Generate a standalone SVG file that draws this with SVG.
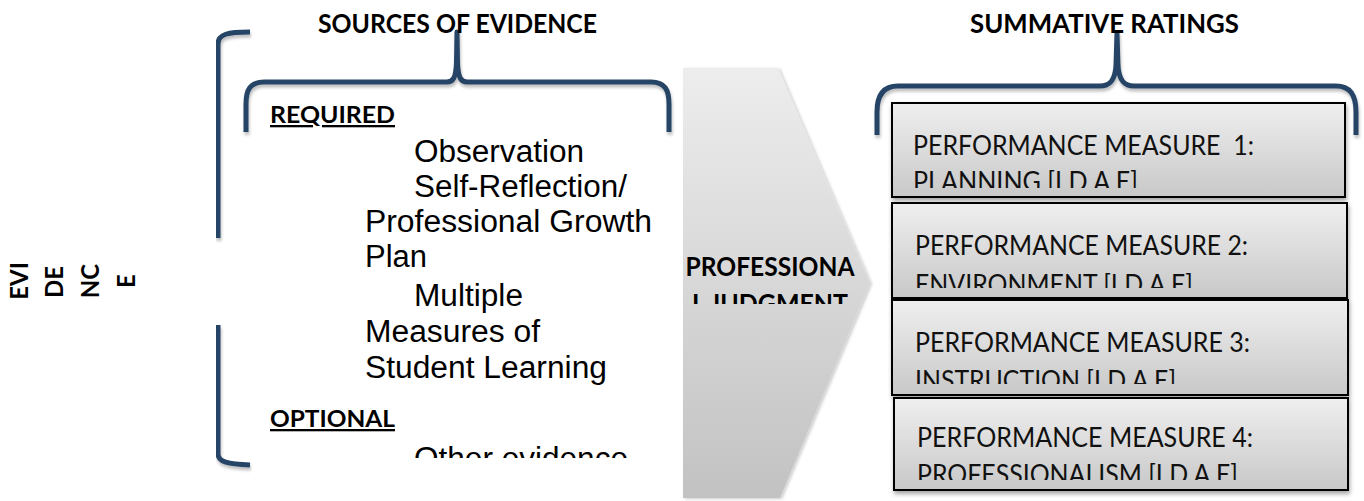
<svg xmlns="http://www.w3.org/2000/svg" width="1364" height="501" viewBox="0 0 1364 501">
<style>
.brace{fill:none;stroke:#254466;stroke-width:5;stroke-linejoin:round;filter:url(#bsh)}
.title{font-family:Lato,"Open Sans",sans-serif;font-weight:bold;font-size:26px;fill:#000}
.hdr{font-family:Lato,"Open Sans",sans-serif;font-weight:bold;font-size:23px;fill:#000;text-decoration:underline}
.item{font-family:"Liberation Sans",Arial,sans-serif;font-size:31px;fill:#000}
.box{stroke:#000;stroke-width:2;fill:url(#boxg);filter:url(#shadow)}
.btxt{font-family:Lato,"Open Sans",sans-serif;font-size:26px;fill:#111}
.ev{font-family:Lato,"Open Sans",sans-serif;font-weight:bold;font-size:24px;fill:#000}
</style>
<defs>
<linearGradient id="boxg" x1="0" y1="0" x2="0" y2="1">
<stop offset="0" stop-color="#efefef"/>
<stop offset="1" stop-color="#c8c8c8"/>
</linearGradient>
<linearGradient id="chevg" x1="0" y1="0" x2="0" y2="1">
<stop offset="0" stop-color="#ededed"/>
<stop offset="1" stop-color="#c2c2c2"/>
</linearGradient>
<filter id="shadow" x="-5%" y="-10%" width="110%" height="130%">
<feDropShadow dx="1" dy="3" stdDeviation="2" flood-color="#000" flood-opacity="0.35"/>
</filter>
<filter id="bsh" x="-5%" y="-10%" width="110%" height="130%">
<feDropShadow dx="1" dy="3" stdDeviation="1.5" flood-color="#000" flood-opacity="0.25"/>
</filter>
<filter id="csh" x="-10%" y="-5%" width="120%" height="110%">
<feDropShadow dx="2" dy="1" stdDeviation="1.5" flood-color="#000" flood-opacity="0.2"/>
</filter>
<clipPath id="c1"><rect x="892" y="104" width="453" height="84"/></clipPath>
<clipPath id="c2"><rect x="892" y="204" width="455" height="84"/></clipPath>
<clipPath id="c3"><rect x="892" y="301" width="456" height="83"/></clipPath>
<clipPath id="c4"><rect x="894" y="399" width="454" height="81"/></clipPath>
<clipPath id="cj"><rect x="683" y="240" width="190" height="64"/></clipPath>
<clipPath id="cl"><rect x="260" y="90" width="420" height="368"/></clipPath>
</defs>

<g id="connectors">
<path class="brace" d="M250,32 C228,32 218,34 218,44 L218,238"/>
<path class="brace" d="M218,325 L218,454 C218,462 228,464 250,465"/>
<path class="brace" d="M246,132 L246,104 C246,90 250,82 264,82 L447,82 C453,82 456,78 456.5,62 L457,32 L457.5,62 C458,78 461,82 467,82 L651,82 C665,82 669,90 669,104 L669,132"/>
<path class="brace" d="M877,135 L877,112 C877,95 884,86 898,86 L1100,86 C1110,86 1115,80 1116,66 L1117,33 L1118,66 C1119,80 1124,86 1134,86 L1336,86 C1350,86 1356,95 1356,112 L1356,135"/>
</g>

<g id="title-sources">
<text class="title" x="318" y="33" textLength="279" lengthAdjust="spacingAndGlyphs">SOURCES OF EVIDENCE</text>
</g>
<g id="title-summative">
<text class="title" x="970" y="33" textLength="269" lengthAdjust="spacingAndGlyphs">SUMMATIVE RATINGS</text>
</g>

<g id="evidence-label">
<g transform="translate(28,281) rotate(-90)"><text class="ev" x="0" y="0" text-anchor="middle">EVI</text></g>
<g transform="translate(63,282) rotate(-90)"><text class="ev" x="0" y="0" text-anchor="middle">DE</text></g>
<g transform="translate(99,281) rotate(-90)"><text class="ev" x="0" y="0" text-anchor="middle">NC</text></g>
<g transform="translate(135,281) rotate(-90)"><text class="ev" x="0" y="0" text-anchor="middle">E</text></g>
</g>

<g id="sources-list" clip-path="url(#cl)">
<text class="hdr" x="270" y="123" textLength="125" lengthAdjust="spacingAndGlyphs">REQUIRED</text>
<text class="item" x="414" y="162" textLength="170" lengthAdjust="spacingAndGlyphs">Observation</text>
<text class="item" x="414" y="197" textLength="213" lengthAdjust="spacingAndGlyphs">Self-Reflection/</text>
<text class="item" x="365" y="232" textLength="287" lengthAdjust="spacingAndGlyphs">Professional Growth</text>
<text class="item" x="365" y="267" textLength="62" lengthAdjust="spacingAndGlyphs">Plan</text>
<text class="item" x="414" y="306" textLength="109" lengthAdjust="spacingAndGlyphs">Multiple</text>
<text class="item" x="365" y="342" textLength="175" lengthAdjust="spacingAndGlyphs">Measures of</text>
<text class="item" x="365" y="378" textLength="242" lengthAdjust="spacingAndGlyphs">Student Learning</text>
<text class="hdr" x="270" y="427" textLength="125" lengthAdjust="spacingAndGlyphs">OPTIONAL</text>
<text class="item" x="414" y="469" textLength="214" lengthAdjust="spacingAndGlyphs">Other evidence</text>
</g>

<g id="professional-judgment">
<polygon points="683,68 778,68 870,283 780,498 683,498" fill="url(#chevg)" filter="url(#csh)"/>
<g clip-path="url(#cj)">
<text class="title" x="770" y="276" text-anchor="middle" textLength="169" lengthAdjust="spacingAndGlyphs">PROFESSIONA</text>
<text class="title" x="770" y="313" text-anchor="middle" textLength="156" lengthAdjust="spacingAndGlyphs">L JUDGMENT</text>
</g>
</g>

<g id="measure-1">
<rect class="box" x="892" y="103" width="453" height="94"/>
<g clip-path="url(#c1)">
<text class="btxt" x="913" y="155" textLength="341" lengthAdjust="spacingAndGlyphs" xml:space="preserve">PERFORMANCE MEASURE  1:</text>
<text class="btxt" x="913" y="191" textLength="225" lengthAdjust="spacingAndGlyphs">PLANNING [I D A E]</text>
</g>
</g>
<g id="measure-2">
<rect class="box" x="892" y="203" width="455" height="95"/>
<g clip-path="url(#c2)">
<text class="btxt" x="915" y="255" textLength="333" lengthAdjust="spacingAndGlyphs">PERFORMANCE MEASURE 2:</text>
<text class="btxt" x="915" y="294" textLength="278" lengthAdjust="spacingAndGlyphs">ENVIRONMENT [I D A E]</text>
</g>
</g>
<g id="measure-3">
<rect class="box" x="892" y="300" width="456" height="95"/>
<g clip-path="url(#c3)">
<text class="btxt" x="915" y="352" textLength="335" lengthAdjust="spacingAndGlyphs">PERFORMANCE MEASURE 3:</text>
<text class="btxt" x="915" y="390" textLength="261" lengthAdjust="spacingAndGlyphs">INSTRUCTION [I D A E]</text>
</g>
</g>
<g id="measure-4">
<rect class="box" x="894" y="398" width="454" height="92"/>
<g clip-path="url(#c4)">
<text class="btxt" x="917" y="447" textLength="336" lengthAdjust="spacingAndGlyphs">PERFORMANCE MEASURE 4:</text>
<text class="btxt" x="917" y="484" textLength="321" lengthAdjust="spacingAndGlyphs">PROFESSIONALISM [I D A E]</text>
</g>
</g>
</svg>
